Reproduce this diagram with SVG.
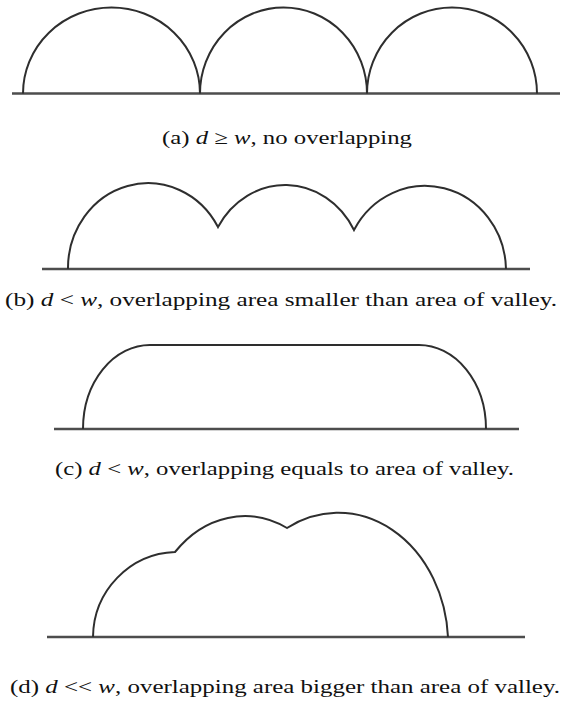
<svg xmlns="http://www.w3.org/2000/svg" width="565" height="703" viewBox="0 0 565 703">
<style>
.base{stroke:#4d4d4d;stroke-width:2.6;fill:none}
.arc{stroke:#2e2e2e;stroke-width:2;fill:none;stroke-linejoin:miter}
.cap{font-family:"Liberation Serif","Times New Roman",serif;font-size:19px;fill:#111}
.m{font-style:italic}
</style>
<rect width="565" height="703" fill="#ffffff"/>
<g id="panel-a">
<line class="base" x1="12" y1="93.5" x2="560" y2="93.5"/>
<path class="arc" d="M23,93.5 A88.5,86 0 0 1 200,93.5 A83.5,86 0 0 1 367,93.5 A85,86 0 0 1 537,93.5"/>
<text class="cap" x="162" y="144" textLength="250" lengthAdjust="spacingAndGlyphs">(a) <tspan class="m">d</tspan> ≥ <tspan class="m">w</tspan>, no overlapping</text>
</g>
<g id="panel-b">
<line class="base" x1="42" y1="269" x2="530" y2="269"/>
<path class="arc" d="M68,269 A80,85 0 0 1 218,227 A78,85 0 0 1 354,230 A81,85 0 0 1 506,269"/>
<text class="cap" x="5" y="306" textLength="552" lengthAdjust="spacingAndGlyphs">(b) <tspan class="m">d</tspan> &lt; <tspan class="m">w</tspan>, overlapping area smaller than area of valley.</text>
</g>
<g id="panel-c">
<line class="base" x1="54" y1="429" x2="519" y2="429"/>
<path class="arc" d="M83,429 A67,84 0 0 1 150,345 L419,345 A67,84 0 0 1 486,429"/>
<text class="cap" x="55" y="475" textLength="459" lengthAdjust="spacingAndGlyphs">(c) <tspan class="m">d</tspan> &lt; <tspan class="m">w</tspan>, overlapping equals to area of valley.</text>
</g>
<g id="panel-d">
<line class="base" x1="47" y1="637" x2="525" y2="637"/>
<path class="arc" d="M93,637 A85,86 0 0 1 175,552 A98,121 0 0 1 287,528 A110,132 0 0 1 448,637"/>
<text class="cap" x="10" y="693" textLength="550" lengthAdjust="spacingAndGlyphs">(d) <tspan class="m">d</tspan> &lt;&lt; <tspan class="m">w</tspan>, overlapping area bigger than area of valley.</text>
</g>
</svg>
